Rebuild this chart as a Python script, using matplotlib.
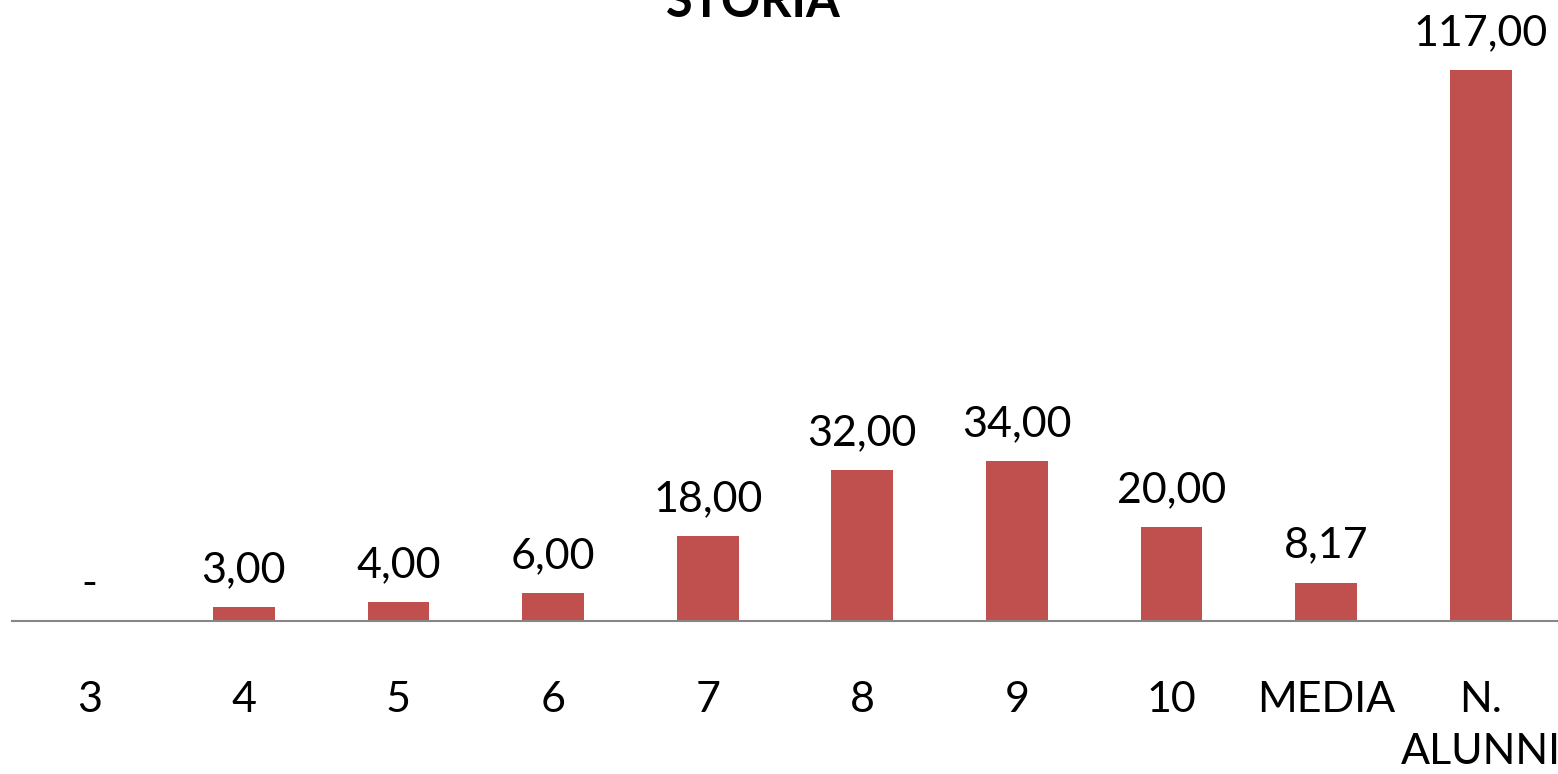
import matplotlib
matplotlib.use("Agg")
import matplotlib.pyplot as plt

categories = ["3", "4", "5", "6", "7", "8", "9", "10", "MEDIA", "N.\nALUNNI"]
values = [0, 3, 4, 6, 18, 32, 34, 20, 8.17, 117]
title = "STORIA"

plt.rcParams['font.family'] = ['Lato', 'DejaVu Sans']

W, H = 1558, 774
fig = plt.figure(figsize=(W / 100, H / 100), dpi=100)
ax = fig.add_axes([12 / W, 153 / H, 1546 / W, 621 / H])

x = list(range(len(categories)))
bars = ax.bar(x, values, width=0.4, color="#C0504D")
ax.set_xlim(-0.5, len(categories) - 0.5)
ax.set_ylim(0, 117 * 621 / 551)

for spine in ["top", "right", "left"]:
    ax.spines[spine].set_visible(False)
ax.spines["bottom"].set_color("#868686")
ax.spines["bottom"].set_linewidth(1.5)
ax.set_yticks([])
ax.set_xticks(x)
ax.set_xticklabels(categories, fontsize=31, linespacing=1.45, va="top")
ax.tick_params(axis="x", length=0, pad=43)

def fmt(v):
    if v == 0:
        return "-"
    return f"{v:.2f}".replace(".", ",")

for xi, v in zip(x, values):
    ax.annotate(fmt(v), xy=(xi, v), xytext=(0, 18), textcoords="offset points",
                ha="center", va="baseline", fontsize=31)

fig.text(753.5 / W, (H - 17) / H, title, ha="center", va="baseline",
         fontsize=35, fontweight="bold")

fig.savefig("out.png", dpi=100)
